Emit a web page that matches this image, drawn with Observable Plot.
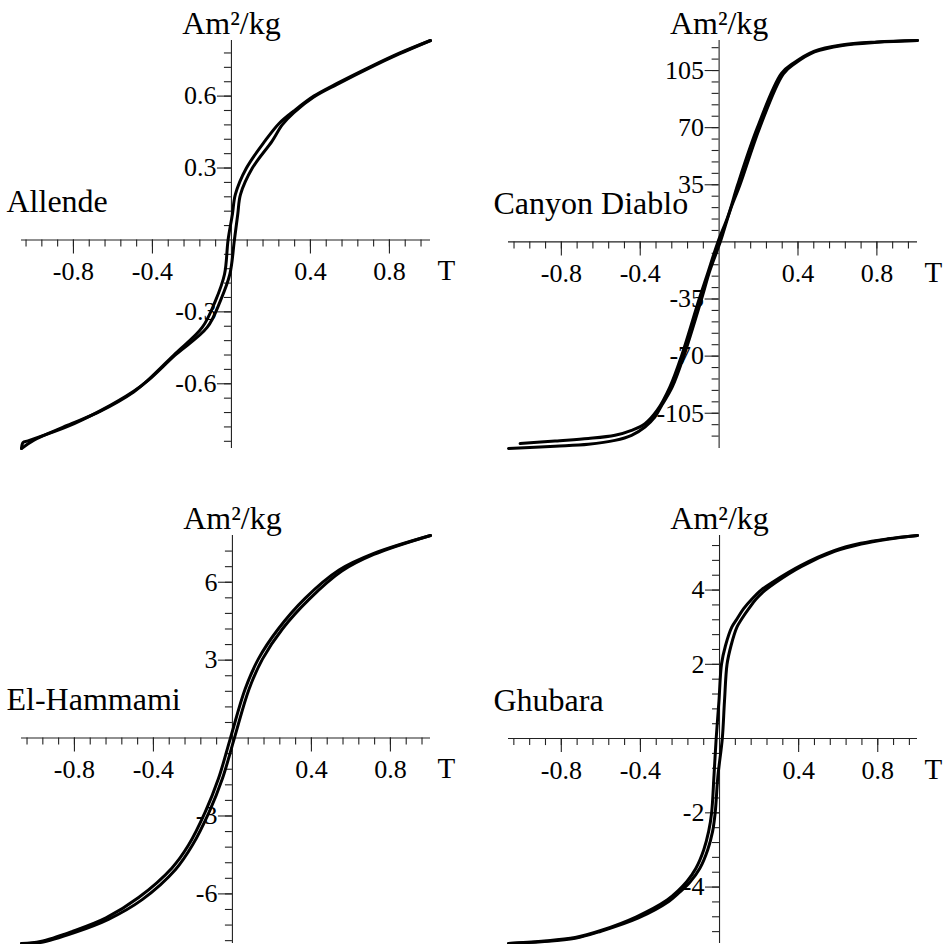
<!DOCTYPE html>
<html><head><meta charset="utf-8">
<script src="https://cdn.jsdelivr.net/npm/d3@7"></script>
<script src="https://cdn.jsdelivr.net/npm/@observablehq/plot@0.6"></script>
<style>
html,body{margin:0;padding:0;background:#fff;}
#wrap{position:relative;width:949px;height:944px;overflow:hidden;background:#fff;}
.panel{position:absolute;}
</style></head><body><div id="wrap"></div>
<script>
// ---- Data (field H in T, magnetization M in Am²/kg) ----
const allendeDescH = [1.008, 0.85, 0.70, 0.535, 0.417, 0.316, 0.240, 0.172, 0.076, 0.020, 0.005, -0.017, -0.035, -0.081, -0.148, -0.284, -0.42, -0.495, -0.663, -0.832, -1.0, -1.063];
const allendeDescM = [0.832, 0.779, 0.721, 0.653, 0.600, 0.538, 0.485, 0.415, 0.300, 0.190, 0.107, 0.0, -0.143, -0.254, -0.365, -0.474, -0.583, -0.634, -0.714, -0.774, -0.835, -0.870];
const allendeAscH = [-1.063, -1.055, -1.03, -0.832, -0.663, -0.495, -0.42, -0.284, -0.123, -0.056, -0.008, 0.015, 0.032, 0.046, 0.106, 0.206, 0.257, 0.316, 0.417, 0.535, 0.70, 0.85, 1.008];
const allendeAscM = [-0.870, -0.845, -0.838, -0.779, -0.712, -0.631, -0.585, -0.480, -0.365, -0.254, -0.143, 0.0, 0.107, 0.190, 0.300, 0.4125, 0.480, 0.531, 0.596, 0.649, 0.718, 0.776, 0.832];

const canyonDescH = [1.006, 0.80, 0.62, 0.48, 0.38, 0.316, 0.194, 0.094, 0.046, -0.006, -0.060, -0.101, -0.191, -0.25, -0.313, -0.376, -0.444, -0.528, -0.663, -0.832, -1.009];
const canyonDescM = [123.4, 122.5, 120.7, 116.8, 109.8, 103.2, 70, 35, 16, 0, -20, -35, -70, -89, -103, -111.4, -115.5, -118.5, -120.5, -122, -123.6];
const canyonAscH = [-1.068, -0.832, -0.663, -0.528, -0.444, -0.376, -0.326, -0.29, -0.238, -0.179, -0.089, -0.048, 0.006, 0.058, 0.106, 0.206, 0.326, 0.386, 0.484, 0.626, 0.80, 1.006];
const canyonAscM = [-126.6, -125.2, -124, -121.6, -118.5, -113.4, -107.3, -100, -89, -70, -35, -18, 0, 20, 35, 70, 103, 109.4, 116.4, 120.4, 122.3, 123.4];

const hammamiDescH = [1.003, 0.716, 0.54, 0.368, 0.232, 0.131, 0.064, -0.01, -0.071, -0.138, -0.223, -0.306, -0.475, -0.64, -0.81, -0.972, -1.068];
const hammamiDescM = [7.8, 7.11, 6.47, 5.38, 4.2, 3.04, 1.88, 0, -1.57, -2.85, -4.13, -5.0, -6.14, -6.92, -7.44, -7.83, -7.91];
const hammamiAscH = [-1.068, -0.972, -0.796, -0.628, -0.457, -0.288, -0.203, -0.118, -0.051, 0.01, 0.084, 0.152, 0.253, 0.388, 0.554, 0.716, 1.003];
const hammamiAscM = [-7.91, -7.87, -7.48, -6.98, -6.22, -5.06, -4.13, -2.85, -1.57, 0, 1.88, 3.04, 4.2, 5.34, 6.43, 7.07, 7.8];

const ghubaraDescH = [1.001, 0.85, 0.714, 0.579, 0.41, 0.27, 0.21, 0.164, 0.122, 0.088, 0.062, 0.03, 0.01, -0.003, -0.017, -0.028, -0.040, -0.055, -0.08, -0.12, -0.165, -0.21, -0.265, -0.42, -0.60, -0.73, -0.90, -1.067];
const ghubaraDescM = [5.47, 5.38, 5.26, 5.06, 4.66, 4.22, 4.0, 3.76, 3.5, 3.22, 3.0, 2.5, 2.0, 1.0, 0, -1.0, -2.0, -2.5, -3.0, -3.5, -3.85, -4.1, -4.35, -4.8, -5.17, -5.36, -5.46, -5.52];
const ghubaraAscH = [-1.067, -0.90, -0.73, -0.60, -0.41, -0.255, -0.20, -0.15, -0.10, -0.06, -0.035, -0.022, -0.008, 0.014, 0.025, 0.038, 0.058, 0.088, 0.112, 0.148, 0.184, 0.23, 0.282, 0.415, 0.582, 0.716, 0.85, 1.001];
const ghubaraAscM = [-5.52, -5.47, -5.38, -5.19, -4.83, -4.38, -4.13, -3.87, -3.5, -3.0, -2.5, -2.0, -1.0, 0, 1.0, 2.0, 2.5, 3.0, 3.22, 3.5, 3.75, 3.99, 4.2, 4.64, 5.04, 5.24, 5.37, 5.47];

// ---- Ticks ----
const xMajorTicks = [-0.8, -0.4, 0.4, 0.8];
const xMajorLabels = ["-0.8", "-0.4", "0.4", "0.8"];
const xMinorTicks = d3.range(-13, 13).filter(i => i !== 0).map(i => +(i * 0.08).toFixed(2));

const allendeYMajor = [-0.6, -0.3, 0.3, 0.6];
const allendeYLabels = ["-0.6", "-0.3", "0.3", "0.6"];
const allendeYMinor = d3.range(-14, 14).filter(i => i !== 0).map(i => +(i * 0.06).toFixed(2));

const canyonYMajor = [-105, -70, -35, 35, 70, 105];
const canyonYLabels = ["-105", "-70", "-35", "35", "70", "105"];
const canyonYMinor = d3.range(-17, 18).filter(i => i !== 0).map(i => i * 7);

const hammamiYMajor = [-6, -3, 3, 6];
const hammamiYLabels = ["-6", "-3", "3", "6"];
const hammamiYMinor = d3.range(-13, 13).filter(i => i !== 0).map(i => +(i * 0.6).toFixed(1));

const ghubaraYMajor = [-4, -2, 2, 4];
const ghubaraYLabels = ["-4", "-2", "2", "4"];
const ghubaraYMinor = d3.range(-14, 14).filter(i => i !== 0).map(i => +(i * 0.4).toFixed(1));

const names = ["Allende", "Canyon Diablo", "El-Hammami", "Ghubara"];
const yUnit = "Am²/kg";
const xUnit = "T";

const rows = (H, M) => H.map((h, i) => ({H: h, M: M[i]}));

const panels = [
  {name: names[0], desc: rows(allendeDescH, allendeDescM), asc: rows(allendeAscH, allendeAscM),
   yMajor: allendeYMajor, yLabels: allendeYLabels, yMinor: allendeYMinor, left: 0, top: 0, width: 487},
  {name: names[1], desc: rows(canyonDescH, canyonDescM), asc: rows(canyonAscH, canyonAscM),
   yMajor: canyonYMajor, yLabels: canyonYLabels, yMinor: canyonYMinor, left: 487, top: 0, width: 462},
  {name: names[2], desc: rows(hammamiDescH, hammamiDescM), asc: rows(hammamiAscH, hammamiAscM),
   yMajor: hammamiYMajor, yLabels: hammamiYLabels, yMinor: hammamiYMinor, left: 0, top: 495, width: 487},
  {name: names[3], desc: rows(ghubaraDescH, ghubaraDescM), asc: rows(ghubaraAscH, ghubaraAscM),
   yMajor: ghubaraYMajor, yLabels: ghubaraYLabels, yMinor: ghubaraYMinor, left: 487, top: 495, width: 462}
];

const FONT = "Liberation Serif, Times New Roman, serif";
const AX = "#222";

function draw(p) {
  const all = p.desc.concat(p.asc);
  const xExt = d3.extent(all, d => d.H);
  const yExt = d3.extent(all, d => d.M);
  const plot = Plot.plot({
    width: p.width,
    height: 449,
    marginLeft: 21,
    marginRight: p.width - 430,
    marginTop: 40,
    marginBottom: 1,
    x: {domain: xExt, axis: null},
    y: {domain: yExt, axis: null},
    style: {fontFamily: FONT, background: "white", overflow: "visible"},
    marks: [
      Plot.ruleY([0], {x1: () => xExt[0], x2: () => xExt[1], stroke: AX, strokeWidth: 1.1}),
      Plot.ruleX([0], {y1: () => yExt[0], y2: () => yExt[1], stroke: AX, strokeWidth: 1.1}),
      Plot.ruleX(xMinorTicks, {x: d => d, y1: () => 0, y2: () => 0, insetTop: 0, insetBottom: -7, stroke: AX, strokeWidth: 1.1}),
      Plot.ruleX(xMajorTicks, {x: d => d, y1: () => 0, y2: () => 0, insetTop: 0, insetBottom: -14, stroke: AX, strokeWidth: 1.1}),
      Plot.ruleY(p.yMinor, {y: d => d, x1: () => 0, x2: () => 0, insetLeft: -7, insetRight: 0, stroke: AX, strokeWidth: 1.1}),
      Plot.ruleY(p.yMajor, {y: d => d, x1: () => 0, x2: () => 0, insetLeft: -14, insetRight: 0, stroke: AX, strokeWidth: 1.1}),
      Plot.text(xMajorTicks, {x: d => d, y: () => 0, text: (d, i) => xMajorLabels[i], dy: 40, lineAnchor: "bottom", textAnchor: "middle", fontSize: 26, fontFamily: FONT, fill: "black"}),
      Plot.text(p.yMajor, {x: () => 0, y: d => d, text: (d, i) => p.yLabels[i], dx: -15, lineAnchor: "middle", textAnchor: "end", fontSize: 26, fontFamily: FONT, fill: "black"}),
      Plot.text([yUnit], {x: () => 0, y: () => yExt[1], text: d => d, dy: -7, lineAnchor: "bottom", textAnchor: "middle", fontSize: 32, fontFamily: FONT, fill: "black"}),
      Plot.text([xUnit], {x: () => xExt[1], y: () => 0, text: d => d, dx: 7, dy: 40, lineAnchor: "bottom", textAnchor: "start", fontSize: 29, fontFamily: FONT, fill: "black"}),
      Plot.text([p.name], {x: () => xExt[0], y: () => 0, text: d => d, dx: -15, dy: -28, lineAnchor: "bottom", textAnchor: "start", fontSize: 32, fontFamily: FONT, fill: "black"}),
      Plot.line(p.desc, {x: "H", y: "M", curve: "catmull-rom", stroke: "black", strokeWidth: 3, strokeLinecap: "round", strokeLinejoin: "round"}),
      Plot.line(p.asc, {x: "H", y: "M", curve: "catmull-rom", stroke: "black", strokeWidth: 3, strokeLinecap: "round", strokeLinejoin: "round"})
    ]
  });
  const div = document.createElement("div");
  div.className = "panel";
  div.style.left = p.left + "px";
  div.style.top = p.top + "px";
  div.appendChild(plot);
  document.getElementById("wrap").appendChild(div);
}
panels.forEach(draw);
</script>
</body></html>
